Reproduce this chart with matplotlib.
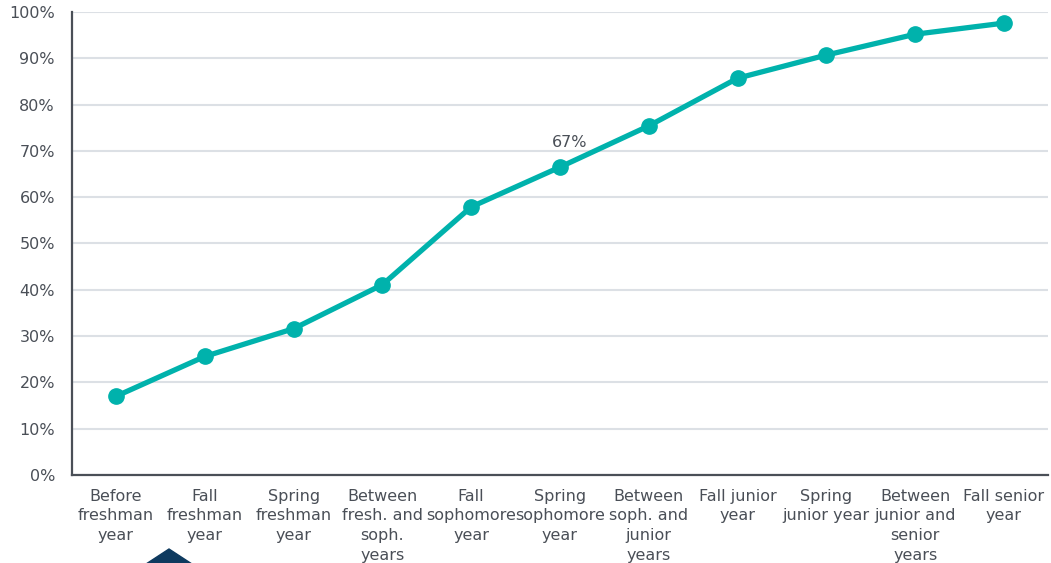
import matplotlib
matplotlib.use('agg')
import matplotlib.pyplot as plt
from matplotlib.patches import Polygon
from matplotlib.ticker import FuncFormatter

# share of students by the point in college
stages = ['Before\nfreshman\nyear', 'Fall\nfreshman\nyear', 'Spring\nfreshman\nyear',
          'Between\nfresh. and\nsoph.\nyears', 'Fall\nsophomore\nyear',
          'Spring\nsophomore\nyear', 'Between\nsoph. and\njunior\nyears',
          'Fall junior\nyear', 'Spring\njunior year',
          'Between\njunior and\nsenior\nyears', 'Fall senior\nyear']
share = [17.0, 25.6, 31.6, 41.1, 57.9, 66.5, 75.4, 85.7, 90.7, 95.2, 97.6]
label_idx = 5
label_text = '67%'

teal = '#00B2AC'
txt = '#4A4F57'

plt.rcParams['font.family'] = 'DejaVu Sans'
fig = plt.figure(figsize=(10.51, 5.63), dpi=100)
ax = fig.add_axes([0.0681, 0.1563, 0.9294, 0.8224])

x = list(range(len(share)))
ax.plot(x, share, color=teal, lw=3.8, marker='o', ms=11, zorder=3,
        solid_capstyle='round')
ax.annotate(label_text, (label_idx, share[label_idx]), xytext=(7, 12),
            textcoords='offset points', ha='center', va='bottom',
            fontsize=11.5, color=txt)

ax.set_xlim(-0.5, len(share) - 0.5)
ax.set_ylim(0, 100)
ax.set_yticks(range(0, 101, 10))
ax.yaxis.set_major_formatter(FuncFormatter(lambda v, p: f'{v:.0f}%'))
ax.set_xticks(x)
ax.set_xticklabels(stages, linespacing=1.38)
ax.tick_params(length=0, labelsize=11.5, labelcolor=txt)
ax.tick_params(axis='y', pad=12)
ax.tick_params(axis='x', pad=10)

ax.grid(axis='y', color='#DCE0E5', lw=1.5)
ax.set_axisbelow(True)
for s in ['top', 'right']:
    ax.spines[s].set_visible(False)
for s in ['left', 'bottom']:
    ax.spines[s].set_color(txt)
    ax.spines[s].set_linewidth(1.6)

# dark marker peeking in at the bottom edge
H = 563
tri = Polygon([(143 / 1051, (H - 566) / H), (169 / 1051, (H - 549) / H),
               (195 / 1051, (H - 566) / H)], closed=True,
              transform=fig.transFigure, color='#0E3A5F', clip_on=False)
fig.patches.append(tri)

fig.savefig('out.png', dpi=100)
plt.close(fig)
